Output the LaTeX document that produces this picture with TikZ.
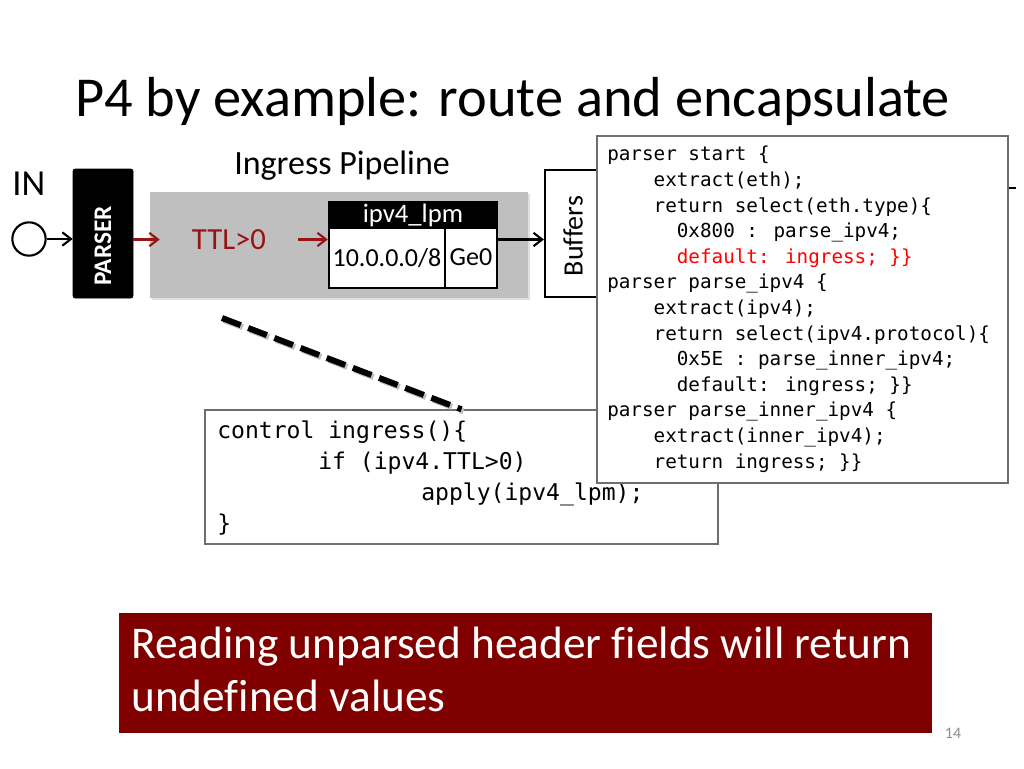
\documentclass[tikz,border=0pt]{standalone}
\usepackage{fontspec}
\setmainfont{Carlito}[Ligatures=NoCommon]
\newfontfamily\codefont{DejaVu Sans Mono}
\usetikzlibrary{shadows, arrows.meta}

\definecolor{notered}{RGB}{128,0,0}
\definecolor{flowred}{RGB}{150,20,20}
\definecolor{pipegray}{RGB}{191,191,191}
\definecolor{framegray}{RGB}{110,110,110}

\tikzset{
	blackbox/.style={draw=black, fill=black, text=white, inner sep=0pt},
	tablecell/.style={draw=black, line width=1.8pt, fill=white, inner sep=0pt},
	flowarrow/.style={-{Straight Barb[length=6.5pt, width=10pt]}, line width=1.6pt},
	redarrow/.style={flowarrow, draw=flowred},
	codebox/.style={draw=framegray, line width=0.8pt, fill=white, inner sep=0pt},
}

\begin{document}
\begin{tikzpicture}[x=0.75pt, y=-0.75pt]
	\useasboundingbox (0,0) rectangle (1024,768);
	
	% title
	\node[anchor=base west, inner sep=0pt, font=\fontsize{42.3}{50}\selectfont] (title) at (75,116) {P4 by example: route and encapsulate};
	
	% input and parser
	\node[anchor=base west, inner sep=0pt, font=\fontsize{27.5}{32}\selectfont] (inlabel) at (12,195) {IN};
	\node[circle, draw, line width=1.6pt, minimum size=25pt, inner sep=0pt] (innode) at (29,239) {};
	\node[blackbox, rounded corners=1.5pt, minimum width=45pt, minimum height=96.75pt] (parser) at (103,233.5) {};
	\node[rotate=90, text=white, font=\bfseries\fontsize{19}{22}\selectfont] (parsertext) at (103,246) {PARSER};
	\draw[flowarrow] (innode.east) -- (innode.east -| parser.west);
	
	% ingress pipeline
	\node[anchor=base west, inner sep=0pt, font=\fontsize{25.5}{30}\selectfont] (pipelabel) at (234,174) {Ingress Pipeline};
	\node[fill=pipegray, minimum width=283.5pt, minimum height=79.5pt, inner sep=0pt,
	      drop shadow={opacity=0.25, shadow xshift=1.5pt, shadow yshift=-1.5pt}] (pipe) at (339,245) {};
	\node[text=flowred, inner xsep=24pt, inner ysep=0pt, font=\fontsize{23}{26}\selectfont] (ttl) at (229,239.5) {TTL>0};
	
	% ipv4_lpm table
	\node[tablecell, minimum width=87pt, minimum height=45pt, font=\fontsize{19.5}{22}\selectfont] (prefix) at (387,258) {10.0.0.0/8};
	\node[tablecell, minimum width=39pt, minimum height=45pt, font=\fontsize{19.5}{22}\selectfont] (port) at (471,258) {\raisebox{1pt}{Ge0}};
	\node[blackbox, line width=1.8pt, minimum width=126pt, minimum height=19.5pt, font=\fontsize{20}{22}\selectfont] (lpm) at (413,215) {ipv4\_lpm};
	
	\draw[redarrow] (parser.east |- ttl) -- (ttl.west);
	\draw[redarrow] (ttl.east) -- (ttl.east -| prefix.west);
	
	% buffers (partly hidden)
	\node[draw, line width=1.6pt, fill=white, minimum width=78.75pt, minimum height=95.25pt, inner sep=0pt] (buf) at (597.5,233.5) {};
	\node[rotate=90, font=\fontsize{21}{24}\selectfont] (buftext) at (573,236) {Buffers};
	\draw[flowarrow] (port.east |- ttl) -- (buf.west |- ttl);
	\draw[line width=2pt] (960,188) -- (1016,188);
	
	% control block
	\node[codebox, draw=framegray, line width=1pt, minimum width=384.75pt, minimum height=100.5pt] (ctrl) at (461.5,477) {};
	\node[anchor=north west, inner sep=0pt, align=left, font=\codefont\fontsize{17.3}{23.25}\selectfont] (ctrltext) at (217,421)
		{control ingress()\{\\
		\hspace*{75.75pt}if (ipv4.TTL>0)\\
		\hspace*{153pt}apply(ipv4\_lpm);\\
		\}};
	\coordinate (dashstart) at (222,318);
	\draw[line width=4.5pt, dash pattern=on 15pt off 6pt, black!25, transform canvas={xshift=1.5pt, yshift=-1.5pt}] (dashstart) -- (ctrl.north);
	\draw[line width=4.5pt, dash pattern=on 15pt off 6pt] (dashstart) -- (ctrl.north);
	
	% parser code
	\node[codebox, minimum width=308.25pt, minimum height=260.25pt,
	      drop shadow={opacity=0.2, shadow xshift=1pt, shadow yshift=-1pt}] (parsecode) at (802.5,309.5) {};
	\node[anchor=north west, inner sep=0pt, align=left, font=\codefont\fontsize{14.45}{19.2}\selectfont] (parsetext) at (607,146)
		{parser start \{\\
		\phantom{xxxx}extract(eth);\\
		\phantom{xxxx}return select(eth.type)\{\\
		\phantom{xxxxxx}0x800 : parse\_ipv4;\\
		\phantom{xxxxxx}\textcolor{red}{default: ingress; \}\}}\\
		parser parse\_ipv4 \{\\
		\phantom{xxxx}extract(ipv4);\\
		\phantom{xxxx}return select(ipv4.protocol)\{\\
		\phantom{xxxxxx}0x5E : parse\_inner\_ipv4;\\
		\phantom{xxxxxx}default: ingress; \}\}\\
		parser parse\_inner\_ipv4 \{\\
		\phantom{xxxx}extract(inner\_ipv4);\\
		\phantom{xxxx}return ingress; \}\}};
	
	% take-away note
	\node[fill=notered, minimum width=609.75pt, minimum height=90pt, inner sep=0pt] (note) at (525.5,673) {};
	\node[anchor=north west, inner sep=0pt, align=left, text=white, font=\fontsize{34}{39.75}\selectfont] (notetext) at (131,627)
		{Reading unparsed header fields will return\\ undefined values};
	
	% page number
	\node[text=black!45, font=\fontsize{12}{14}\selectfont] (pagenum) at (953,733) {14};
\end{tikzpicture}
\end{document}
